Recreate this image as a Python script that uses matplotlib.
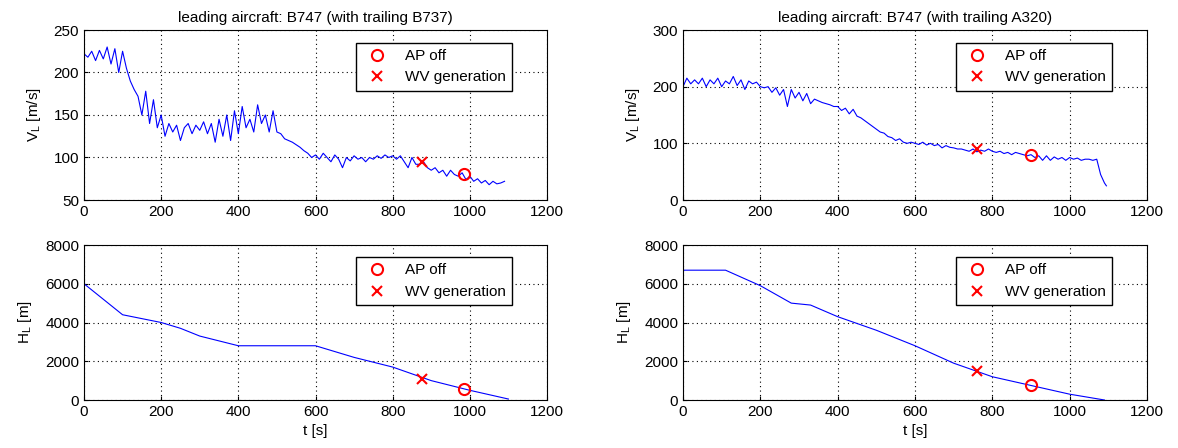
import numpy as np
import matplotlib
matplotlib.use("Agg")
import matplotlib.pyplot as plt

plt.rcParams["font.family"] = ["Liberation Sans", "DejaVu Sans"]
plt.rcParams["font.size"] = 10

# B747 (with trailing B737)
t1 = list(range(0, 1100, 10))
v1 = [222, 218, 225, 214, 226, 216, 230, 210, 228, 200, 225,
      205, 190, 180, 172, 150, 178, 140, 168, 135, 150,
      125, 140, 130, 138, 120, 135, 140, 128, 138, 132,
      142, 128, 140, 118, 145, 125, 150, 120, 155, 128,
      160, 135, 145, 130, 162, 140, 150, 130, 155, 130,
      128, 122, 120, 118, 115, 112, 108, 105, 100, 103,
      98, 105, 100, 95, 103, 98, 88, 100, 96, 102,
      98, 100, 95, 100, 98, 102, 99, 103, 100, 102,
      98, 102, 95, 88, 100, 92, 92, 95, 88, 85,
      88, 82, 85, 78, 85, 80, 78, 82, 74, 78,
      72, 75, 70, 73, 68, 72, 69, 70, 72]
th1 = [0, 50, 100, 200, 250, 300, 400, 600, 700, 800, 900, 1000, 1100]
h1 = [6000, 5200, 4400, 4000, 3700, 3300, 2800, 2800, 2200, 1700, 1000, 500, 50]
ap1 = (985, 80, 550)
wv1 = (875, 95, 1100)

# B747 (with trailing A320)
t2 = list(range(0, 1100, 10)) + [1095]
v2 = [200, 215, 205, 212, 205, 215, 200, 212, 205, 215, 200,
      210, 205, 218, 202, 212, 195, 210, 205, 208, 200,
      198, 200, 190, 198, 185, 195, 165, 195, 180, 190,
      175, 188, 170, 178, 175, 172, 170, 168, 165, 165,
      158, 162, 152, 160, 148, 145, 140, 135, 130, 125,
      120, 118, 112, 110, 105, 108, 102, 100, 102, 100,
      98, 102, 97, 100, 96, 98, 92, 96, 93, 92,
      90, 90, 88, 86, 90, 85, 88, 86, 90, 86,
      84, 86, 82, 84, 80, 84, 82, 80, 78, 80,
      75, 78, 70, 78, 70, 76, 72, 75, 70, 75,
      72, 74, 70, 72, 72, 70, 72, 45, 30, 25]
th2 = [0, 110, 200, 280, 330, 400, 500, 600, 700, 800, 900, 1000, 1090]
h2 = [6700, 6700, 5900, 5000, 4900, 4300, 3600, 2800, 1900, 1200, 750, 300, 0]
ap2 = (900, 80, 750)
wv2 = (760, 90, 1500)

fig = plt.figure(figsize=(11.78, 4.48), dpi=100)
W, H = 1178, 448


def mk_ax(x0, x1, y0, y1):
    return fig.add_axes([x0 / W, 1 - y1 / H, (x1 - x0) / W, (y1 - y0) / H])


def style(ax, ylim, yticks):
    ax.set_xlim(0, 1200)
    ax.set_ylim(*ylim)
    ax.set_yticks(yticks)
    ax.set_xticks(range(0, 1201, 200))
    ax.grid(True, linestyle=(0, (1, 3)), color="black", linewidth=0.8)
    ax.tick_params(direction="in", length=3, labelsize=11)
    ax.yaxis.labelpad = 8


def add_marks(ax, ap, wv):
    ax.plot(ap[0], ap[1], "o", mfc="none", mec="red", ms=8, mew=1.5, label="AP off")
    ax.plot(wv[0], wv[1], "x", color="red", ms=7, mew=1.5, label="WV generation")
    ax.legend(loc="upper right", bbox_to_anchor=(0.94, 0.97), fancybox=False,
              edgecolor="black", framealpha=1, fontsize=11)


panels = [(84, 547, t1, v1, th1, h1, ap1, wv1, "leading aircraft: B747 (with trailing B737)",
           (50, 250), range(50, 251, 50)),
          (683, 1147, t2, v2, th2, h2, ap2, wv2, "leading aircraft: B747 (with trailing A320)",
           (0, 300), range(0, 301, 100))]

for x0, x1, t, v, th, h, ap, wv, title, vlim, vt in panels:
    ax = mk_ax(x0, x1, 30, 200)
    ax.plot(t, v, color="blue", linewidth=0.8)
    add_marks(ax, (ap[0], ap[1]), (wv[0], wv[1]))
    style(ax, vlim, vt)
    ax.set_title(title, fontsize=11)
    ax.set_ylabel("V$_\\mathregular{L}$ [m/s]", fontsize=11)

    ax2 = mk_ax(x0, x1, 245, 400)
    ax2.plot(th, h, color="blue", linewidth=0.8)
    add_marks(ax2, (ap[0], ap[2]), (wv[0], wv[2]))
    style(ax2, (0, 8000), range(0, 8001, 2000))
    ax2.set_ylabel("H$_\\mathregular{L}$ [m]", fontsize=11)
    ax2.set_xlabel("t [s]", fontsize=11)

fig.savefig("out.png", dpi=100)
